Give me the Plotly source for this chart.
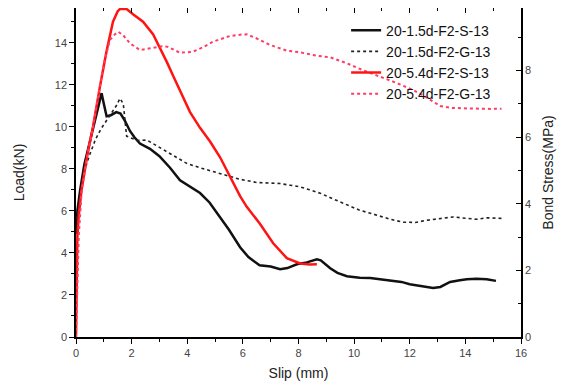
import plotly.graph_objects as go

# ---- data ----
s1_x = [0, 0.05, 0.15, 0.3, 0.5, 0.7, 0.85, 0.92, 1.0, 1.1, 1.25, 1.45, 1.6, 1.75, 1.94, 2.1, 2.3,
        2.66, 3.0, 3.38, 3.74, 4.1, 4.46, 4.8, 5.18, 5.5, 5.9, 6.2, 6.6, 7.0, 7.34, 7.6, 7.94, 8.3,
        8.66, 8.8, 9.14, 9.4, 9.74, 10.2, 10.58, 10.94, 11.3, 11.7, 12.0, 12.4, 12.84, 13.1, 13.45,
        13.8, 14.05, 14.4, 14.77, 15.1]
s1_y = [4.9, 6.0, 7.0, 8.2, 9.3, 10.4, 11.3, 11.6, 11.1, 10.5, 10.55, 10.7, 10.63, 10.3, 9.8, 9.5,
        9.2, 8.95, 8.6, 8.05, 7.45, 7.15, 6.85, 6.4, 5.7, 5.1, 4.27, 3.8, 3.41, 3.35, 3.22, 3.28,
        3.46, 3.55, 3.7, 3.65, 3.27, 3.05, 2.89, 2.82, 2.81, 2.75, 2.7, 2.62, 2.51, 2.42, 2.33,
        2.38, 2.62, 2.7, 2.75, 2.77, 2.75, 2.67]

g1_x = [0, 0.05, 0.15, 0.3, 0.5, 0.7, 0.9, 1.1, 1.3, 1.45, 1.58, 1.7, 1.82, 2.0, 2.2, 2.55, 2.9, 3.26,
        3.6, 3.98, 4.46, 5.18, 5.9, 6.5, 7.0, 7.34, 7.7, 8.06, 8.4, 8.78, 9.1, 9.5, 9.8, 10.2,
        10.58, 10.94, 11.3, 11.76, 12.2, 12.6, 12.97, 13.3, 13.56, 14.0, 14.4, 14.77, 15.1, 15.37]
g1_y = [5.6, 6.0, 6.7, 7.9, 8.7, 9.4, 9.9, 10.3, 10.75, 11.0, 11.35, 11.1, 9.55, 9.45, 9.35, 9.37,
        9.1, 8.85, 8.55, 8.26, 8.05, 7.78, 7.5, 7.35, 7.32, 7.3, 7.22, 7.14, 7.0, 6.84, 6.65, 6.43,
        6.25, 6.03, 5.89, 5.75, 5.6, 5.46, 5.45, 5.55, 5.6, 5.68, 5.71, 5.65, 5.6, 5.67, 5.65, 5.64]

s2_x = [0, 0.02, 0.05, 0.1, 0.2, 0.4, 0.61, 0.86, 1.1, 1.33, 1.5, 1.58, 1.82, 2.05, 2.41, 2.77, 3.0,
        3.26, 3.5, 3.74, 4.1, 4.46, 4.82, 5.18, 5.54, 5.9, 6.14, 6.6, 7.09, 7.58, 8.06, 8.4, 8.66]
s2_y = [0, 3.0, 4.8, 5.8, 7.0, 8.6, 10.0, 11.9, 13.6, 15.0, 15.5, 15.6, 15.6, 15.35, 15.0, 14.4, 13.8,
        13.1, 12.4, 11.7, 10.7, 9.95, 9.3, 8.55, 7.6, 6.7, 6.19, 5.41, 4.46, 3.75, 3.5, 3.45, 3.46]

g2_x = [0, 0.05, 0.1, 0.2, 0.4, 0.61, 0.86, 1.0, 1.22, 1.4, 1.52, 1.7, 1.94, 2.3, 2.66, 3.13, 3.3,
        3.74, 4.2, 4.6, 4.93, 5.3, 5.54, 5.9, 6.14, 6.5, 6.98, 7.58, 8.06, 8.66, 9.14, 9.74, 10.3,
        10.94, 11.5, 12.12, 12.6, 13.09, 13.5, 13.9, 14.4, 14.9, 15.3]
g2_y = [0, 3.0, 4.8, 6.9, 8.6, 10.0, 11.9, 13.0, 14.13, 14.4, 14.52, 14.35, 13.97, 13.65, 13.73,
        13.84, 13.8, 13.52, 13.57, 13.8, 14.05, 14.22, 14.32, 14.38, 14.4, 14.2, 13.89, 13.62, 13.54,
        13.38, 13.3, 13.02, 12.7, 12.38, 12.1, 11.75, 11.4, 10.99, 10.9, 10.88, 10.85, 10.85, 10.86]

names = ["20-1.5d-F2-S-13", "20-1.5d-F2-G-13", "20-5.4d-F2-S-13", "20-5.4d-F2-G-13"]

x_ticks = [0, 2, 4, 6, 8, 10, 12, 14, 16]
load_ticks = [0, 2, 4, 6, 8, 10, 12, 14]
stress_ticks = [0, 2, 4, 6, 8]

fig = go.Figure()
fig.add_trace(go.Scatter(x=s1_x, y=s1_y, mode="lines", name=names[0],
                         line=dict(color="#111111", width=2.5)))
fig.add_trace(go.Scatter(x=g1_x, y=g1_y, mode="lines", name=names[1],
                         line=dict(color="#222222", width=1.6, dash="dot")))
fig.add_trace(go.Scatter(x=s2_x, y=s2_y, mode="lines", name=names[2],
                         line=dict(color="#ff1414", width=2.5)))
fig.add_trace(go.Scatter(x=g2_x, y=g2_y, mode="lines", name=names[3],
                         line=dict(color="#ff3c64", width=2, dash="dot")))
# empty trace so the secondary (top / right) axes are drawn
fig.add_trace(go.Scatter(x=[None], y=[None], xaxis="x2", yaxis="y2", mode="lines",
                         showlegend=False, hoverinfo="skip"))

tickfont = dict(family="Liberation Sans, Arial, sans-serif", size=11, color="#444444")
titlefont = dict(family="Liberation Sans, Arial, sans-serif", size=14, color="#222222")

# the page body adds an 8px offset, so the figure is 8px smaller and margins are compensated
fig.update_layout(
    width=562, height=381,
    margin=dict(l=68, r=49, t=0, b=52),
    paper_bgcolor="white", plot_bgcolor="white",
    font=dict(family="Liberation Sans, Arial, sans-serif"),
    showlegend=True,
    legend=dict(x=0.607, y=0.98, xanchor="left", yanchor="top",
                bgcolor="rgba(0,0,0,0)", borderwidth=0,
                font=dict(family="Liberation Sans, Arial, sans-serif", size=14, color="#111111"),
                tracegroupgap=0),
    xaxis=dict(range=[0, 16], tickvals=x_ticks, ticks="outside", ticklen=5, tickwidth=1.2,
               tickcolor="black", showline=True, linecolor="black", linewidth=1.5,
               showgrid=False, zeroline=False, tickfont=tickfont,
               minor=dict(dtick=1, ticks="outside", ticklen=3, tickcolor="black"),
               title=dict(text="Slip (mm)", font=titlefont, standoff=10)),
    xaxis2=dict(range=[0, 16], overlaying="x", side="top", anchor="y", tickvals=x_ticks,
                ticks="inside", ticklen=5, tickwidth=1.2, tickcolor="black", showline=True,
                linecolor="black", linewidth=1.5, showgrid=False, zeroline=False,
                showticklabels=False,
                minor=dict(dtick=1, ticks="inside", ticklen=3, tickcolor="black")),
    yaxis=dict(range=[0, 15.65], tickvals=load_ticks, ticks="outside", ticklen=5, tickwidth=1.2,
               tickcolor="black", showline=True, linecolor="black", linewidth=1.5,
               showgrid=False, zeroline=False, tickfont=tickfont,
               minor=dict(dtick=1, ticks="outside", ticklen=3, tickcolor="black"),
               title=dict(text="Load(kN)", font=titlefont, standoff=27)),
    yaxis2=dict(range=[0, 9.87], overlaying="y", side="right", anchor="x", tickvals=stress_ticks,
                ticks="inside", ticklen=5, tickwidth=1.2, tickcolor="black", showline=True,
                linecolor="black", linewidth=1.5, showgrid=False, zeroline=False,
                tickfont=tickfont,
                minor=dict(dtick=1, ticks="inside", ticklen=3, tickcolor="black"),
                title=dict(text="Bond Stress(MPa)", font=titlefont, standoff=13)),
)

fig.write_html("out.html")
